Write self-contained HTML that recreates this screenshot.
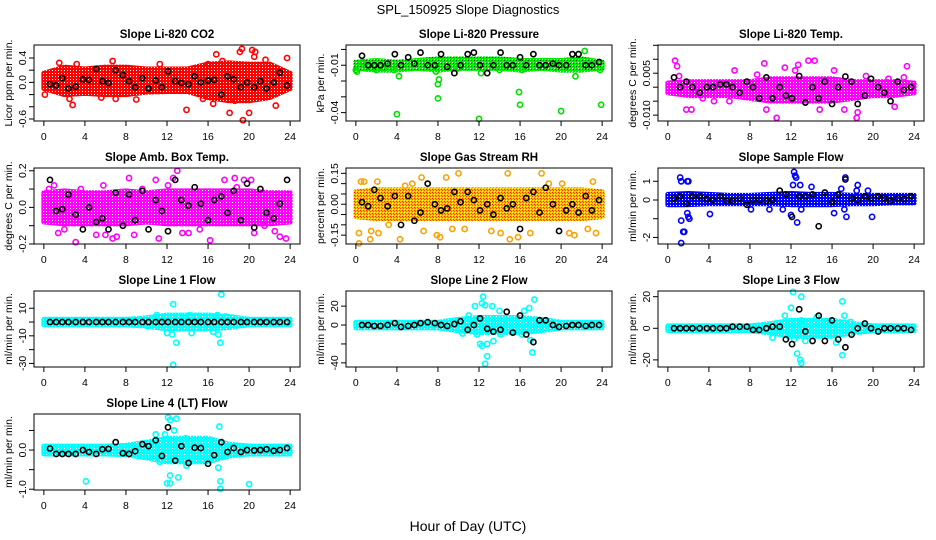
<!DOCTYPE html>
<html><head><meta charset="utf-8">
<style>
html,body{margin:0;padding:0;background:#fff;}
svg{display:block;font-family:"Liberation Sans",sans-serif;}
</style></head>
<body>
<svg id="chart" width="936" height="540" viewBox="0 0 936 540" xmlns="http://www.w3.org/2000/svg">
<defs>
<pattern id="pGreen" width="3" height="3" patternUnits="userSpaceOnUse"><rect width="3" height="3" fill="#00ee00"/><rect width="1" height="1" fill="#005000"/><rect x="2" y="2" width="1" height="1" fill="#ffffff"/></pattern>
<pattern id="pOrange" width="3" height="3" patternUnits="userSpaceOnUse"><rect width="3" height="3" fill="#ffc000"/><rect width="1" height="1" fill="#ff2000"/><rect x="1" y="1" width="1" height="1" fill="#ff4000"/><rect x="2" y="2" width="1" height="1" fill="#ffff60"/></pattern>
<pattern id="pRed" width="3" height="3" patternUnits="userSpaceOnUse"><rect width="3" height="3" fill="#ff0000"/><rect x="1" y="1" width="1" height="1" fill="#ffffff"/></pattern>
<pattern id="pMag" width="3" height="3" patternUnits="userSpaceOnUse"><rect width="3" height="3" fill="#ff00ff"/><rect x="1" y="1" width="1" height="1" fill="#ffffff"/></pattern>
<pattern id="pBlue" width="3" height="3" patternUnits="userSpaceOnUse"><rect width="3" height="3" fill="#0000ff"/><rect x="1" y="1" width="1" height="1" fill="#ffffff"/></pattern>
<pattern id="pCyan" width="3" height="3" patternUnits="userSpaceOnUse"><rect width="3" height="3" fill="#00ffff"/><rect x="1" y="1" width="1" height="1" fill="#ffffff"/></pattern>
</defs>
<text x="468" y="14" font-size="13" text-anchor="middle">SPL_150925  Slope Diagnostics</text>
<text x="468" y="531" font-size="14" text-anchor="middle">Hour of Day (UTC)</text>
</svg>
<script>
// shared x data
const blackHours=[0.6,1.2,1.8,2.4,3.1,3.8,4.4,5.1,5.7,6.3,7.0,7.7,8.3,8.9,9.6,10.2,10.9,11.5,12.1,12.8,13.4,14.1,14.7,15.3,16.0,16.6,17.3,17.9,18.5,19.2,19.8,20.5,21.1,21.7,22.4,23.0,23.7];
const bandHours=[0,2,4,6,8,10,12,14,16,18,20,22,24];
const xTicks=[0,4,8,12,16,20,24];

// CO2
const co2Upper=[0.15,0.25,0.22,0.25,0.25,0.22,0.22,0.22,0.3,0.32,0.3,0.3,0.15];
const co2Lower=[-0.1,-0.2,-0.18,-0.2,-0.2,-0.16,-0.15,-0.15,-0.25,-0.3,-0.3,-0.25,-0.1];
const co2OutH=[0.1,1.5,2.8,3.2,2.5,5.6,6.7,7,9,11.3,13.9,16,16.8,16.5,18.1,19.3,19.4,19.1,20.3,20,20.6,21.6,22.6,23.7,15.5,17.4,18.6,20.5];
const co2OutV=[-0.2,0.32,-0.37,0.3,-0.27,-0.25,0.35,-0.27,-0.28,0.3,-0.45,0.3,0.46,-0.35,-0.5,0.55,-0.62,0.5,0.53,-0.5,0.5,0.37,-0.38,0.4,-0.27,0.35,-0.3,0.42];
const co2Black=[-0.03,-0.05,0.07,-0.1,-0.07,0.05,0.04,0.22,0.02,-0.01,0.2,0.12,0.02,-0.08,0.07,-0.1,0.03,-0.08,0.18,0.02,-0.01,-0.03,0.1,0.0,0.03,0.04,-0.2,0.1,0.05,-0.08,0.0,-0.08,0.02,-0.1,0.0,0.16,-0.05];
const co2Ticks=[-0.6,-0.4,-0.2,0,0.2,0.4];
const co2Labels=["-0.6","","","0.0","","0.4"];

// Pressure
const prUpper=[-0.008,-0.007,-0.008,-0.007,-0.006,-0.006,-0.006,-0.006,-0.007,-0.007,-0.007,-0.006,-0.008];
const prLower=[-0.012,-0.013,-0.013,-0.012,-0.013,-0.012,-0.012,-0.012,-0.013,-0.012,-0.013,-0.013,-0.012];
const prOutH=[0,0.1,0.7,1,2,2.7,3.7,4,4.2,7.8,8,8.1,8,10,12,12.2,14,15.9,16,16.2,20,21.4,22.3,23.9,23.8];
const prOutV=[-0.013,-0.014,-0.008,-0.012,-0.013,-0.012,-0.013,-0.041,-0.017,-0.014,-0.031,-0.019,-0.022,-0.012,-0.044,-0.015,-0.013,-0.027,-0.035,-0.013,-0.039,-0.017,-0.001,-0.035,-0.013];
const prBlack=[-0.004,-0.01,-0.01,-0.01,-0.009,-0.003,-0.01,-0.005,-0.009,-0.002,-0.01,-0.01,-0.003,-0.011,-0.015,-0.01,-0.003,-0.002,-0.01,-0.015,-0.01,-0.002,-0.01,-0.01,-0.005,-0.01,-0.003,-0.01,-0.01,-0.009,-0.01,-0.01,-0.003,-0.003,-0.01,-0.01,-0.008];
const prTicks=[0,-0.01,-0.02,-0.03,-0.04];
const prLabels=["","-0.01","","","-0.04"];

// Li-820 temp
const tUpper=[0.0015,0.002,0.002,0.002,0.002,0.003,0.003,0.003,0.003,0.002,0.002,0.002,0.0015];
const tLower=[-0.002,-0.003,-0.003,-0.003,-0.004,-0.005,-0.005,-0.005,-0.005,-0.004,-0.003,-0.003,-0.002];
const tOutH=[0.7,0.9,1.1,1.8,2.3,6.5,8.7,9.4,9.6,10.6,11.4,12.4,12.7,13.7,14.3,14.8,16.2,17.2,18.4,18.5,19.3,21.5,22.1,23.3,23.0,4.5,6,3.4];
const tOutV=[0.0095,0.0075,0.004,-0.008,-0.008,0.006,0.0045,0.0085,-0.008,-0.011,0.007,0.006,0.008,0.0095,0.0095,-0.008,0.006,-0.008,-0.011,-0.009,0.004,0.003,-0.007,0.0075,0.0035,-0.005,-0.005,-0.004];
const tBlack=[0.0035,0.0,0.002,0.0,-0.002,0.0,0.0,0.001,0.001,0.0,-0.002,0.002,0.0,-0.004,0.0035,-0.004,0.0,-0.003,-0.004,0.004,-0.0055,0.0,-0.004,0.002,-0.006,0.0,0.0038,0.002,-0.006,-0.003,0.003,0.0,-0.002,-0.005,0.002,-0.001,0.0];
const tTicks=[0.015,0.01,0.005,0,-0.005,-0.01];
const tLabels=["","","0.005","","","-0.010"];

// Amb box temp
const abUpper=[0.08,0.09,0.08,0.08,0.09,0.08,0.09,0.09,0.09,0.09,0.09,0.08,0.08];
const abLower=[-0.08,-0.09,-0.09,-0.09,-0.09,-0.08,-0.09,-0.09,-0.09,-0.09,-0.09,-0.09,-0.08];
const abOutH=[1.4,2,3.1,3.6,5.1,6,5.8,6.7,7.1,8.3,8.8,10.9,11.2,12.1,12.6,13,13.5,14.1,15.2,16.2,17.6,18.6,19.5,20.2,20.5,21.5,22.5,23.0,23.6,0.5,1,9.6,18.8];
const abOutV=[-0.14,-0.12,-0.19,0.1,-0.15,-0.15,0.12,-0.17,-0.16,0.16,-0.15,0.15,-0.17,0.12,0.16,0.2,-0.14,-0.14,-0.12,-0.18,0.15,0.16,0.15,0.15,-0.14,-0.1,-0.13,-0.16,-0.17,0.1,0.12,0.1,0.11];
const abBlack=[0.15,-0.02,-0.01,0.07,-0.04,-0.12,0.0,-0.08,-0.06,-0.12,0.08,-0.1,0.07,-0.07,0.09,-0.12,0.04,-0.02,-0.13,0.15,0.04,0.01,0.11,0.02,-0.07,0.04,0.06,-0.03,0.09,-0.07,0.13,-0.11,0.1,-0.03,-0.06,0.02,0.15];
const abTicks=[-0.2,-0.1,0,0.1,0.2];
const abLabels=["-0.2","","0.0","","0.2"];

// Gas stream RH
const rhUpper=[0.06,0.07,0.07,0.07,0.07,0.07,0.07,0.07,0.07,0.07,0.07,0.07,0.06];
const rhLower=[-0.06,-0.07,-0.07,-0.07,-0.07,-0.07,-0.07,-0.07,-0.07,-0.07,-0.07,-0.07,-0.06];
const rhOutH=[0.3,0.5,0.8,1.4,1.5,2.2,2.1,3.2,4.8,5.5,6.4,4.3,6.6,7.9,8.2,8.8,9.4,10.0,10.6,13.2,14.1,14.8,15.0,15.8,17.0,18.1,18.8,20.1,20.8,21.3,22.6,23.1,23.4,0.3];
const rhOutV=[-0.14,0.11,0.11,-0.17,-0.13,-0.14,0.11,-0.1,0.09,0.1,0.13,-0.17,-0.13,-0.15,-0.16,0.13,-0.12,0.15,-0.12,-0.13,-0.14,0.15,-0.17,-0.16,-0.14,0.15,0.1,0.1,-0.14,-0.15,-0.12,0.11,-0.14,-0.19];
const rhBlack=[0.01,-0.01,0.07,0.03,-0.01,0.04,-0.1,0.04,-0.08,-0.04,0.1,0.0,-0.03,-0.02,0.06,0.01,0.06,0.02,-0.03,0.0,-0.05,0.03,-0.02,0.0,-0.12,0.03,0.06,-0.04,0.08,0.0,-0.13,-0.03,0.0,-0.04,0.04,-0.03,0.02];
const rhTicks=[-0.15,-0.1,-0.05,0,0.05,0.1,0.15];
const rhLabels=["-0.15","","","0.00","","","0.15"];

// Sample flow
const sfUpper=[0.3,0.35,0.3,0.25,0.25,0.3,0.35,0.3,0.3,0.25,0.25,0.25,0.25];
const sfLower=[-0.25,-0.25,-0.2,-0.2,-0.2,-0.2,-0.25,-0.25,-0.25,-0.2,-0.2,-0.15,-0.15];
const sfOutH=[1.2,1.3,1.9,2,1.3,1.5,1.6,1.3,1.9,2.0,2.1,4.1,8.1,9.9,11.2,12.0,12.3,12.4,12.5,12.6,12.9,12.2,13.0,14.0,16.2,16.9,17.3,17.4,17.2,18.5,19.5,19.9,18.4];
const sfOutV=[1.2,1.0,1.0,1.0,-1.1,-1.7,-1.7,-2.3,-0.7,-0.9,-1.0,-0.75,-0.5,-0.5,-0.5,-0.8,1.5,1.3,1.2,-1.2,0.8,0.8,-0.5,0.7,-0.7,0.6,1.2,-0.9,-0.5,0.8,0.5,-0.9,0.5];
const sfBlack=[0.1,0.2,-0.2,0.2,0.2,0.05,0.0,0.2,-0.05,-0.05,0.1,-0.25,0.0,0.0,-0.05,0.0,0.5,0.3,-0.9,0.2,0.2,0.3,-1.4,0.4,-0.1,0.3,1.1,0.1,0.0,0.2,0.1,0.2,0.1,-0.05,0.1,0.05,0.2];
const sfTicks=[-2,-1,0,1];
const sfLabels=["-2","","0","1"];

// Line 1 flow
const l1Upper=[2,2,2,2,2,3,5,5,5,4,2,2,2];
const l1Lower=[-2,-2,-2,-2,-2,-3,-5,-5,-5,-4,-2,-2,-2];
const l1OutH=[12.6,17.3,12.6,12.9,12,12.5,11,10.1,14.2,14.4,16.9,16.5,17,17.2,13.5,15,17.7];
const l1OutV=[13,20,-31,-15,-8,-9,5,-3,5,-8,5,-7,-9,-15,4,4,4];
const l1Black=[0,0,0,0,0,0,0,0,0,0,0,0,0,0,0,0,0,0,0,0,0,0,0,0,0,0,0,0,0,0,0,0,0,0,0,0,0];
const l1Ticks=[10,0,-10,-20,-30];
const l1Labels=["10","","-10","","-30"];

// Line 2 flow
const l2Upper=[3,3,3,3,3,6,8,8,8,6,3,3,3];
const l2Lower=[-3,-3,-3,-3,-3,-6,-8,-8,-8,-6,-3,-3,-3];
const l2OutH=[12.4,17.4,11.0,11.6,12.3,12.6,13.3,14.0,16.4,16.9,12.1,12.3,12.8,12.8,12.6,13.4,17.2,11.8,14.1,16.2,17,10.4];
const l2OutV=[30,27,10,20,23,21,20,15,15,18,-20,-22,-20,-33,-41,-17,-29,-10,-10,-10,-16,-9];
const l2Black=[0,0,-1,-1,0,2,-2,-1,0,2,3,2,0,-1,1,4,-5,0,7,-4,-7,-5,14,-8,10,-10,-18,5,5,0,-2,-1,0,0,-1,0,0];
const l2Ticks=[20,0,-20,-40];
const l2Labels=["20","0","","-40"];

// Line 3 flow
const l3Upper=[1.5,1.5,1.5,1.5,1.5,3,5,5,5,3,1.5,1.5,1.5];
const l3Lower=[-1.5,-1.5,-1.5,-1.5,-1.5,-3,-5,-5,-5,-3,-1.5,-1.5,-1.5];
const l3OutH=[12.2,13.0,12.0,11.4,13.0,12.6,12.9,13.0,12.3,14.5,17.0,17.2,17,16.4,17.8,11.8,13.4,10.2];
const l3OutV=[23,20,13,8,5,-16,-20,-22,-7,7,17,8,-17,-9,4,-5,-8,-6];
const l3Black=[0,0,0,0,0,0,0,0,0,1,1,1,-1,-1,0,1,1,-7,-10,12,-2,-8,8,-8,5,-7,-12,-4,0,3,0,-2,0,0,0,0,-1];
const l3Ticks=[20,0,-20];
const l3Labels=["20","0","-20"];

// Line 4 (LT) flow
const l4Upper=[0.1,0.1,0.1,0.1,0.12,0.2,0.3,0.3,0.3,0.15,0.1,0.1,0.1];
const l4Lower=[-0.1,-0.1,-0.1,-0.1,-0.12,-0.2,-0.3,-0.3,-0.3,-0.15,-0.1,-0.1,-0.1];
const l4OutH=[12.1,12.3,12.7,12.9,11.8,10.9,13.8,17.1,17.0,17.2,17.2,12.0,12.3,12.3,13.1,4.1,20,13.9,11.3];
const l4OutV=[0.83,0.77,0.5,0.8,0.4,0.4,0.3,0.6,-0.45,-0.8,-0.99,-0.85,-0.85,-0.65,-0.7,-0.8,-0.87,-0.4,-0.3];
const l4Black=[0.04,-0.1,-0.1,-0.1,-0.1,0.0,-0.05,-0.1,0.02,0.03,0.2,-0.08,-0.1,-0.03,0.15,0.1,0.25,-0.15,0.58,-0.27,0.1,-0.33,0.06,0.05,-0.35,-0.13,0.2,-0.05,0.05,-0.05,0.0,-0.01,0.0,0.02,-0.02,0.0,0.05];
const l4Ticks=[0.5,0,-0.5,-1];
const l4Labels=["","0.0","","-1.0"];

const NS="http://www.w3.org/2000/svg";
const svg=document.getElementById('chart');
function mk(tag,attrs,parent){const e=document.createElementNS(NS,tag);for(const k in attrs)e.setAttribute(k,attrs[k]);(parent||svg).appendChild(e);return e;}

const panels=[
 {id:'co2',title:'Slope Li-820 CO2',ylab:'Licor ppm per min.',col:0,row:0,ymax:0.613,ymin:-0.633,up:co2Upper,lo:co2Lower,oh:co2OutH,ov:co2OutV,bk:co2Black,tk:co2Ticks,tl:co2Labels,color:'#ff0000',fill:'url(#pRed)'},
 {id:'pressure',title:'Slope Li-820 Pressure',ylab:'kPa per min.',col:1,row:0,ymax:0.0028,ymin:-0.0453,up:prUpper,lo:prLower,oh:prOutH,ov:prOutV,bk:prBlack,tk:prTicks,tl:prLabels,color:'#00dd00',fill:'url(#pGreen)'},
 {id:'li820-temp',title:'Slope Li-820 Temp.',ylab:'degrees C per min.',col:2,row:0,ymax:0.0151,ymin:-0.0121,up:tUpper,lo:tLower,oh:tOutH,ov:tOutV,bk:tBlack,tk:tTicks,tl:tLabels,color:'#ff00ff',fill:'url(#pMag)'},
 {id:'amb-box-temp',title:'Slope Amb. Box Temp.',ylab:'degrees C per min.',col:0,row:1,ymax:0.215,ymin:-0.2,up:abUpper,lo:abLower,oh:abOutH,ov:abOutV,bk:abBlack,tk:abTicks,tl:abLabels,color:'#ff00ff',fill:'url(#pMag)'},
 {id:'gas-stream-rh',title:'Slope Gas Stream RH',ylab:'percent per min.',col:1,row:1,ymax:0.176,ymin:-0.193,up:rhUpper,lo:rhLower,oh:rhOutH,ov:rhOutV,bk:rhBlack,tk:rhTicks,tl:rhLabels,color:'#ffa000',fill:'url(#pOrange)'},
 {id:'sample-flow',title:'Slope Sample Flow',ylab:'ml/min per min.',col:2,row:1,ymax:1.71,ymin:-2.35,up:sfUpper,lo:sfLower,oh:sfOutH,ov:sfOutV,bk:sfBlack,tk:sfTicks,tl:sfLabels,color:'#0000ff',fill:'url(#pBlue)'},
 {id:'line1-flow',title:'Slope Line 1 Flow',ylab:'ml/min per min.',col:0,row:2,ymax:22.5,ymin:-32.6,up:l1Upper,lo:l1Lower,oh:l1OutH,ov:l1OutV,bk:l1Black,tk:l1Ticks,tl:l1Labels,color:'#00ffff',fill:'url(#pCyan)'},
 {id:'line2-flow',title:'Slope Line 2 Flow',ylab:'ml/min per min.',col:1,row:2,ymax:36,ymin:-44.4,up:l2Upper,lo:l2Lower,oh:l2OutH,ov:l2OutV,bk:l2Black,tk:l2Ticks,tl:l2Labels,color:'#00ffff',fill:'url(#pCyan)'},
 {id:'line3-flow',title:'Slope Line 3 Flow',ylab:'ml/min per min.',col:2,row:2,ymax:23.6,ymin:-24.5,up:l3Upper,lo:l3Lower,oh:l3OutH,ov:l3OutV,bk:l3Black,tk:l3Ticks,tl:l3Labels,color:'#00ffff',fill:'url(#pCyan)'},
 {id:'line4-flow',title:'Slope Line 4 (LT) Flow',ylab:'ml/min per min.',col:0,row:3,ymax:0.92,ymin:-1.02,up:l4Upper,lo:l4Lower,oh:l4OutH,ov:l4OutV,bk:l4Black,tk:l4Ticks,tl:l4Labels,color:'#00ffff',fill:'url(#pCyan)'}
];
const colX=[34,346,658], rowY=[45,168,291,414], W=266, H=76;

panels.forEach(p=>{
  const x0=colX[p.col], y0=rowY[p.row], x1=x0+W, y1=y0+H;
  const xs=h=>x0+W*(h+0.96)/25.92;
  const ys=v=>y0+H*(p.ymax-v)/(p.ymax-p.ymin);
  const g=mk('g',{});
  
  
  const clipId='clip-'+p.id;
  const cp=mk('clipPath',{id:clipId},g); mk('rect',{x:x0,y:y0-3,width:W,height:H+6},cp);
  const t=mk('text',{x:(x0+x1)/2,y:y0-7,'font-size':11.5,'font-weight':'bold','text-anchor':'middle'},g);
  t.textContent=p.title;
  
  
  const yl=mk('text',{x:0,y:0,'font-size':10.5,'text-anchor':'middle',transform:`translate(${x0-22},${(y0+y1)/2}) rotate(-90)`},g);
  yl.textContent=p.ylab;
  
  
  const plot=mk('g',{'clip-path':`url(#${clipId})`},g);
  let pts=[];
  bandHours.forEach((h,i)=>pts.push(xs(h)+','+ys(p.up[i])));
  for(let i=bandHours.length-1;i>=0;i--)pts.push(xs(bandHours[i])+','+ys(p.lo[i]));
  const band=mk('polygon',{points:pts.join(' '),fill:p.fill,stroke:p.fill,'stroke-width':5,'stroke-linejoin':'round'},plot);
  
  
  p.oh.forEach((h,i)=>{
    const c=mk('circle',{cx:xs(h),cy:ys(p.ov[i]),r:2.6,fill:'none',stroke:p.color,'stroke-width':1.6},plot);
    
    
  });
  blackHours.forEach((h,i)=>{
    if(i>=p.bk.length)return;
    const c=mk('circle',{cx:xs(h),cy:ys(p.bk[i]),r:2.6,fill:'none',stroke:'#000','stroke-width':1.6},plot);
    
    
  });
  const box=mk('rect',{x:x0,y:y0,width:W,height:H,fill:'none',stroke:'#000','stroke-width':1},g);
  
  
  xTicks.forEach(h=>{
    const x=xs(h);
    mk('line',{x1:x,x2:x,y1:y1,y2:y1+5,stroke:'#000'},g);
    const tx=mk('text',{x:x,y:y1+19,'font-size':10.5,'text-anchor':'middle'},g);
    tx.textContent=h;
    
    
  });
  p.tk.forEach((v,i)=>{
    const y=ys(v);
    mk('line',{x1:x0-5,x2:x0,y1:y,y2:y,stroke:'#000'},g);
    if(p.tl[i]){
      const ty=mk('text',{x:0,y:0,'font-size':10.5,'text-anchor':'middle',transform:`translate(${x0-8},${y}) rotate(-90)`},g);
      ty.textContent=p.tl[i];
      
      
    }
  });
});
</script>
</body></html>
